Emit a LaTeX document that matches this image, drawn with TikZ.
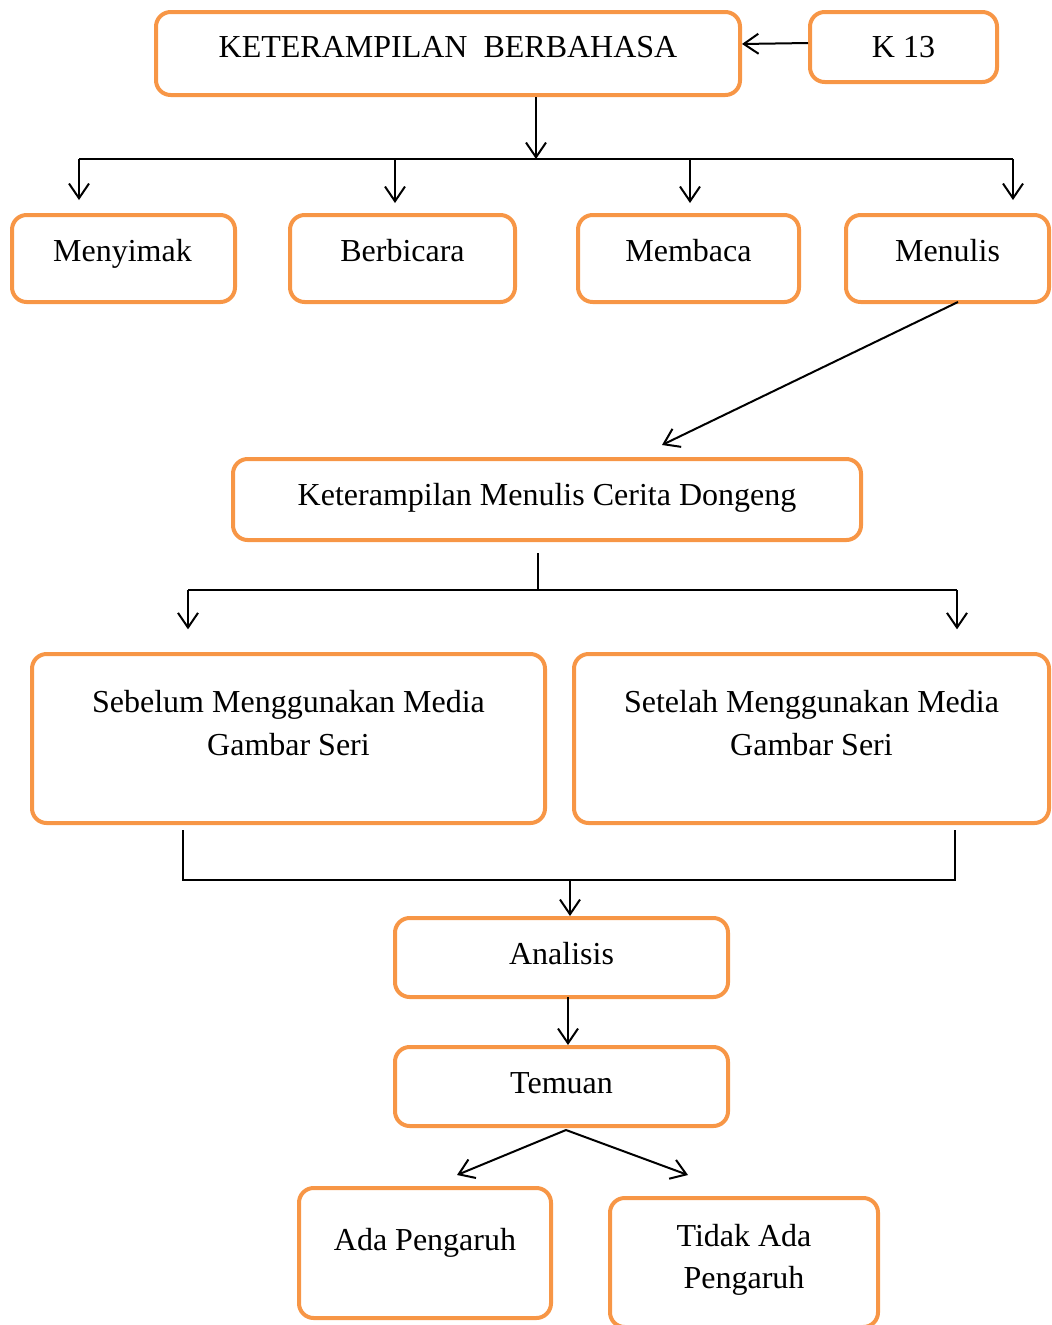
\documentclass[tikz,border=0pt]{standalone}
\usepackage{fontspec}
\setmainfont{Liberation Serif}
\usetikzlibrary{arrows.meta}
\definecolor{boxorange}{HTML}{F79646}
\begin{document}
\begin{tikzpicture}[x=0.75pt,y=-0.75pt,
  box/.style={draw=boxorange, line width=3pt, rounded corners=11pt, inner sep=0pt},
  txt/.style={font=\fontsize{24}{32}\selectfont, align=center, inner sep=0pt},
  conn/.style={line width=1.5pt},
  arr/.style={line width=1.5pt, -{Straight Barb[length=11pt,width=15pt,line width=1.5pt]}}]
\useasboundingbox (0,0) rectangle (1051,1325);
% boxes
\node[box, minimum width=438pt, minimum height=62.25pt] (kb) at (448,53.5) {};
\node[txt, anchor=base] (kbt) at (448,57) {KETERAMPILAN\ \ BERBAHASA};
\node[box, minimum width=140.25pt, minimum height=52.5pt] (k13) at (903.5,47) {};
\node[txt, anchor=base] (k13t) at (903.5,57) {K 13};
\node[box, minimum width=167.25pt, minimum height=65.25pt] (menyimak) at (123.5,258.5) {};
\node[txt, anchor=base] (menyimakt) at (122.5,261) {Menyimak};
\node[box, minimum width=168.75pt, minimum height=65.25pt] (berbicara) at (402.5,258.5) {};
\node[txt, anchor=base] (berbicarat) at (402.5,261) {Berbicara};
\node[box, minimum width=165.75pt, minimum height=65.25pt] (membaca) at (688.5,258.5) {};
\node[txt, anchor=base] (membacat) at (688.5,261) {Membaca};
\node[box, minimum width=152.25pt, minimum height=65.25pt] (menulis) at (947.5,258.5) {};
\node[txt, anchor=base] (menulist) at (947.5,261) {Menulis};
\node[box, minimum width=471pt, minimum height=60.75pt] (kmcd) at (547,499.5) {};
\node[txt, anchor=base] (kmcdt) at (547,505) {Keterampilan Menulis Cerita Dongeng};
\node[box, minimum width=384.75pt, minimum height=126.75pt] (sebelum) at (288.5,738.5) {};
\node[txt] (sebelumt) at (288.5,723) {Sebelum Menggunakan Media\\Gambar Seri};
\node[box, minimum width=356.25pt, minimum height=126.75pt] (setelah) at (811.5,738.5) {};
\node[txt] (setelaht) at (811.5,723) {Setelah Menggunakan Media\\Gambar Seri};
\node[box, minimum width=249.75pt, minimum height=59.25pt] (analisis) at (561.5,957.5) {};
\node[txt, anchor=base] (analisist) at (561.5,964) {Analisis};
\node[box, minimum width=249.75pt, minimum height=59.25pt] (temuan) at (561.5,1086.5) {};
\node[txt, anchor=base] (temuant) at (561.5,1093) {Temuan};
\node[box, minimum width=189pt, minimum height=97.5pt] (ada) at (425,1253) {};
\node[txt, anchor=base] (adat) at (425,1250) {Ada Pengaruh};
\node[box, minimum width=201pt, minimum height=96.75pt] (tidak) at (744,1262.5) {};
\node[txt] (tidakt) at (744,1260) {Tidak Ada\\Pengaruh};
% coordinates
\coordinate (j1) at (536,159);
\coordinate (hl) at (79,159);
\coordinate (hr) at (1013,159);
\coordinate (d2) at (395,159);
\coordinate (d3) at (690,159);
\coordinate (menulisstart) at (958,302);
\coordinate (menulisend) at (662,445);
\coordinate (j2top) at (538,553);
\coordinate (j2) at (538,590);
\coordinate (h2l) at (188,590);
\coordinate (h2r) at (957,590);
\coordinate (s1) at (183,830);
\coordinate (s2) at (955,830);
\coordinate (h3l) at (183,880);
\coordinate (h3r) at (955,880);
\coordinate (j3) at (570,880);
\coordinate (at) at (568,997);
\coordinate (tsplit) at (566,1130);
\coordinate (adaend) at (457,1175);
\coordinate (tidakend) at (688,1175);
% connectors
\draw[arr] (k13.west |- 0,43) -- (kb.east |- 0,44);
\draw[arr] (kb.south -| j1) -- (j1);
\draw[conn] (hl) -- (hr);
\draw[arr, shorten >=9.75pt] (hl) -- (hl |- menyimak.north);
\draw[arr, shorten >=7.5pt] (d2) -- (d2 |- berbicara.north);
\draw[arr, shorten >=7.5pt] (d3) -- (d3 |- membaca.north);
\draw[arr, shorten >=9.75pt] (hr) -- (hr |- menulis.north);
\draw[arr] (menulisstart) -- (menulisend);
\draw[conn] (j2top) -- (j2);
\draw[conn] (h2l) -- (h2r);
\draw[arr, shorten >=17pt] (h2l) -- (h2l |- sebelum.north);
\draw[arr, shorten >=17pt] (h2r) -- (h2r |- setelah.north);
\draw[conn] (s1) -- (h3l) -- (h3r) -- (s2);
\draw[arr] (j3) -- (j3 |- analisis.north);
\draw[arr] (at) -- (at |- temuan.north);
\draw[arr] (tsplit) -- (adaend);
\draw[arr] (tsplit) -- (tidakend);
\end{tikzpicture}
\end{document}
